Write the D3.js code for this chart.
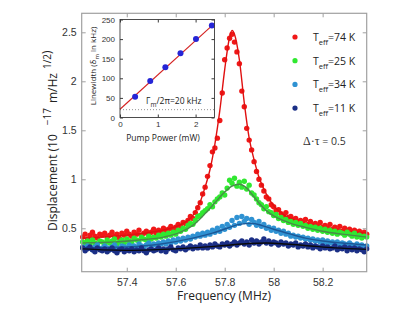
<!DOCTYPE html>
<html>
<head>
<meta charset="utf-8">
<script src="https://cdn.jsdelivr.net/npm/d3@7"></script>
<style>
  body { margin: 0; background: #fff; }
  svg { font-family: "Open Sans", sans-serif; }
</style>
</head>
<body>
<div id="graf"></div>
<script>
// spectra sampled every 10 kHz starting at 57.22 MHz
const freqStart = 57.22
const freqStep = 0.01

const red74 = [
  0.41,0.44,0.39,0.43,0.46,0.42,0.40,0.44,0.43,0.45,
  0.41,0.43,0.46,0.42,0.44,0.40,0.45,0.43,0.47,0.44,
  0.42,0.46,0.44,0.48,0.43,0.45,0.47,0.44,0.46,0.49,
  0.45,0.48,0.46,0.50,0.47,0.49,0.52,0.48,0.51,0.54,
  0.52,0.56,0.55,0.58,0.62,0.60,0.66,0.71,0.76,0.85,
  0.92,1.03,1.14,1.28,1.32,1.42,1.60,1.88,2.22,2.34,
  2.44,2.48,2.40,2.30,2.18,1.90,1.74,1.52,1.40,1.30,
  1.18,1.08,1.00,0.94,0.88,0.82,0.80,0.74,0.72,0.68,
  0.69,0.65,0.63,0.66,0.61,0.62,0.59,0.60,0.57,0.58,
  0.56,0.59,0.54,0.57,0.53,0.55,0.52,0.56,0.51,0.53,
  0.50,0.54,0.49,0.51,0.48,0.52,0.47,0.50,0.46,0.49,
  0.45,0.48,0.44,0.47,0.43,0.46,0.44
]
const green25 = [
  0.36,0.33,0.37,0.34,0.38,0.35,0.33,0.37,0.36,0.34,
  0.38,0.35,0.37,0.39,0.34,0.36,0.38,0.35,0.39,0.37,
  0.36,0.40,0.38,0.37,0.41,0.39,0.38,0.42,0.39,0.41,
  0.40,0.43,0.41,0.44,0.42,0.45,0.43,0.46,0.44,0.48,
  0.47,0.50,0.49,0.53,0.55,0.54,0.58,0.62,0.63,0.66,
  0.68,0.70,0.74,0.72,0.77,0.80,0.82,0.86,0.84,0.91,
  0.99,0.96,1.01,0.93,0.97,0.92,0.98,0.90,0.94,0.86,
  0.84,0.80,0.76,0.74,0.70,0.72,0.67,0.66,0.63,0.64,
  0.60,0.61,0.58,0.59,0.56,0.57,0.54,0.56,0.53,0.55,
  0.52,0.53,0.50,0.52,0.49,0.51,0.48,0.50,0.47,0.49,
  0.46,0.48,0.45,0.47,0.44,0.46,0.45,0.43,0.46,0.44,
  0.42,0.45,0.41,0.43,0.40,0.42,0.41
]
const blue34 = [
  0.31,0.29,0.32,0.30,0.28,0.31,0.33,0.29,0.30,0.32,
  0.30,0.28,0.31,0.33,0.30,0.29,0.32,0.31,0.30,0.33,
  0.31,0.32,0.30,0.34,0.32,0.31,0.33,0.35,0.32,0.34,
  0.33,0.35,0.34,0.36,0.34,0.37,0.35,0.38,0.36,0.39,
  0.37,0.40,0.38,0.41,0.39,0.42,0.41,0.44,0.42,0.45,
  0.43,0.46,0.44,0.48,0.46,0.50,0.47,0.52,0.49,0.54,
  0.51,0.58,0.53,0.61,0.55,0.62,0.57,0.60,0.54,0.59,
  0.56,0.53,0.57,0.52,0.54,0.50,0.51,0.48,0.50,0.47,
  0.48,0.45,0.47,0.44,0.45,0.42,0.43,0.41,0.42,0.40,
  0.41,0.39,0.40,0.38,0.39,0.37,0.38,0.36,0.38,0.35,
  0.37,0.35,0.36,0.34,0.36,0.33,0.35,0.34,0.32,0.35,
  0.33,0.31,0.34,0.32,0.33,0.31,0.32
]
const navy11 = [
  0.30,0.27,0.29,0.31,0.28,0.26,0.30,0.28,0.27,0.29,
  0.26,0.28,0.30,0.27,0.25,0.28,0.29,0.26,0.28,0.27,
  0.29,0.26,0.28,0.27,0.30,0.27,0.25,0.28,0.29,0.27,
  0.28,0.30,0.27,0.29,0.26,0.29,0.31,0.28,0.27,0.30,
  0.29,0.31,0.28,0.30,0.32,0.29,0.31,0.30,0.33,0.30,
  0.32,0.30,0.33,0.31,0.34,0.32,0.31,0.34,0.33,0.35,
  0.32,0.34,0.36,0.33,0.35,0.37,0.34,0.36,0.33,0.38,
  0.35,0.37,0.34,0.36,0.39,0.35,0.37,0.34,0.36,0.35,
  0.33,0.36,0.34,0.35,0.32,0.34,0.33,0.35,0.31,0.33,
  0.32,0.34,0.31,0.33,0.30,0.32,0.31,0.29,0.32,0.30,
  0.31,0.29,0.30,0.32,0.28,0.30,0.29,0.31,0.27,0.30,
  0.28,0.30,0.27,0.29,0.28,0.26,0.29
]

// fitted curves, [MHz, displacement]
const redFit = [[57.22,0.40],[57.30,0.41],[57.40,0.43],[57.50,0.46],[57.58,0.50],[57.63,0.55],
  [57.67,0.63],[57.70,0.77],[57.72,0.92],[57.74,1.10],[57.76,1.36],[57.78,1.70],[57.80,2.12],
  [57.82,2.45],[57.83,2.52],[57.84,2.48],[57.86,2.22],[57.88,1.78],[57.90,1.42],[57.92,1.20],
  [57.94,1.02],[57.97,0.85],[58.00,0.73],[58.04,0.64],[58.10,0.57],[58.18,0.52],[58.27,0.48],[58.38,0.45]]
const greenFit = [[57.22,0.35],[57.35,0.36],[57.45,0.38],[57.55,0.41],[57.62,0.46],[57.67,0.53],
  [57.72,0.65],[57.76,0.76],[57.80,0.87],[57.83,0.93],[57.86,0.95],[57.89,0.91],[57.92,0.82],
  [57.95,0.73],[57.98,0.66],[58.02,0.60],[58.07,0.55],[58.13,0.51],[58.20,0.47],[58.28,0.44],[58.38,0.41]]
const blueFit = [[57.22,0.30],[57.40,0.31],[57.54,0.34],[57.67,0.40],[57.75,0.45],[57.81,0.50],
  [57.86,0.54],[57.91,0.55],[57.95,0.53],[58.00,0.49],[58.07,0.44],[58.13,0.40],[58.20,0.37],
  [58.28,0.35],[58.38,0.33]]
const navyFit = [[57.22,0.29],[57.30,0.28],[57.40,0.275],[57.50,0.28],[57.60,0.29],[57.70,0.305],
  [57.80,0.325],[57.90,0.345],[57.97,0.35],[58.05,0.34],[58.15,0.32],[58.25,0.30],[58.38,0.285]]

const legendTemps = ["=74 K", "=25 K", "=34 K", "=11 K"]
const xTicks = [57.4, 57.6, 57.8, 58, 58.2]
const yTicks = [0.5, 1, 1.5, 2, 2.5]

// inset: linewidth vs pump power
const pumpPower = [0.40, 0.80, 1.20, 1.60, 2.01, 2.43]
const linewidth = [53, 93, 128, 164, 200, 235]
const lwFit = [[0, 21], [2.5, 240]]
const gammaM = 20
const insetXTicks = [0, 1, 2]
const insetYTicks = [0, 50, 100, 150, 200, 250]

const series = [
  { vals: red74, fit: redFit, color: "#f01818", fitColor: "#e01010" },
  { vals: green25, fit: greenFit, color: "#30e830", fitColor: "#4a8a4a" },
  { vals: blue34, fit: blueFit, color: "#2f92d2", fitColor: "#1c5796" },
  { vals: navy11, fit: navyFit, color: "#1b2f86", fitColor: "#0a0a0a" },
]

const W = 414, H = 312
const svg = d3.select("#graf").append("svg").attr("width", W).attr("height", H)

const x = d3.scaleLinear().domain([57.216, 58.38]).range([81.7, 366.7])
const y = d3.scaleLinear().domain([0.057, 2.694]).range([271.7, 13.3])

const plot = svg.append("g")
const line = d3.line().x((d) => x(d[0])).y((d) => y(d[1])).curve(d3.curveMonotoneX)

series.forEach((s) => {
  plot.append("g")
    .selectAll("circle")
    .data(s.vals)
    .enter()
    .append("circle")
    .attr("cx", (d, i) => x(freqStart + i * freqStep))
    .attr("cy", (d) => y(d))
    .attr("r", 2.7)
    .attr("fill", s.color)
  plot.append("path")
    .datum(s.fit)
    .attr("d", line)
    .attr("fill", "none")
    .attr("stroke", s.fitColor)
    .attr("stroke-width", 1.4)
})

// frame + axes
const axisColor = "#a0a0a0"
const styleAxis = (g) => {
  g.select(".domain").remove()
  g.selectAll(".tick line").attr("stroke", axisColor)
  g.selectAll(".tick text").attr("fill", "#333").attr("font-size", 10.5)
}
svg.append("g").attr("transform", "translate(0,271.7)")
  .call(d3.axisBottom(x).tickValues(xTicks).tickSize(-4).tickPadding(7).tickFormat(d3.format("")))
  .call(styleAxis)
svg.append("g").attr("transform", "translate(0,13.3)")
  .call(d3.axisTop(x).tickValues(xTicks).tickSize(-4).tickFormat(""))
  .call(styleAxis)
svg.append("g").attr("transform", "translate(81.7,0)")
  .call(d3.axisLeft(y).tickValues(yTicks).tickSize(-4).tickPadding(5).tickFormat(d3.format("")))
  .call(styleAxis)
svg.append("g").attr("transform", "translate(366.7,0)")
  .call(d3.axisRight(y).tickValues(yTicks).tickSize(-4).tickFormat(""))
  .call(styleAxis)
svg.append("rect")
  .attr("x", 81.7).attr("y", 13.3).attr("width", 285).attr("height", 258.4)
  .attr("fill", "none").attr("stroke", axisColor).attr("stroke-width", 1.2)

svg.append("text")
  .attr("x", 224).attr("y", 300)
  .attr("text-anchor", "middle")
  .attr("font-size", 12).attr("fill", "#222")
  .text("Frequency (MHz)")

const yl = svg.append("text")
  .attr("transform", "translate(57,231) rotate(-90)")
  .attr("font-size", 12).attr("fill", "#222")
yl.append("tspan").text("Displacement (10")
yl.append("tspan").attr("dx", 9).attr("dy", -6).attr("font-size", 10).text("\u221217")
yl.append("tspan").attr("dx", 5).attr("dy", 6).text("m/Hz")
yl.append("tspan").attr("dx", 4).attr("dy", -6).attr("font-size", 10).text("1/2")
yl.append("tspan").attr("dy", 0).text(")")

// legend
const legend = svg.append("g")
series.forEach((s, i) => {
  const ly = 37 + i * 23.7
  legend.append("circle").attr("cx", 295).attr("cy", ly).attr("r", 2.6).attr("fill", s.color)
  const t = legend.append("text").attr("x", 313).attr("y", ly + 4).attr("font-size", 10.5).attr("fill", "#222")
  t.append("tspan").text("T")
  t.append("tspan").attr("dy", 4).attr("font-size", 7.5).text("eff")
  t.append("tspan").attr("dy", -4).text(legendTemps[i])
})

const dt = svg.append("text").attr("x", 303).attr("y", 145).attr("font-size", 10.5).attr("fill", "#333")
dt.append("tspan").attr("font-family", "Liberation Serif").attr("font-size", 12).text("\u0394\u00b7\u03c4")
dt.append("tspan").text(" = 0.5")

// inset
const ix = d3.scaleLinear().domain([0, 2.5]).range([120, 214.5])
const iy = d3.scaleLinear().domain([0, 250]).range([117.5, 19.5])
const inset = svg.append("g")
inset.append("rect")
  .attr("x", 120).attr("y", 19.5).attr("width", 94.5).attr("height", 98)
  .attr("fill", "#fff")

const insetColor = "#3a3a3a"
const styleInset = (g) => {
  g.select(".domain").remove()
  g.selectAll(".tick line").attr("stroke", insetColor)
  g.selectAll(".tick text").attr("fill", "#333").attr("font-size", 8)
}
inset.append("g").attr("transform", "translate(0,117.5)")
  .call(d3.axisBottom(ix).tickValues(insetXTicks).tickSize(-3).tickPadding(4).tickFormat(d3.format("d")))
  .call(styleInset)
inset.append("g").attr("transform", "translate(0,19.5)")
  .call(d3.axisTop(ix).tickValues(insetXTicks).tickSize(-3).tickFormat(""))
  .call(styleInset)
inset.append("g").attr("transform", "translate(120,0)")
  .call(d3.axisLeft(iy).tickValues(insetYTicks).tickSize(-3).tickPadding(5).tickFormat(d3.format("d")))
  .call(styleInset)
inset.append("g").attr("transform", "translate(214.5,0)")
  .call(d3.axisRight(iy).tickValues(insetYTicks).tickSize(-3).tickFormat(""))
  .call(styleInset)

inset.append("line")
  .attr("x1", ix(0)).attr("x2", ix(2.5)).attr("y1", iy(gammaM)).attr("y2", iy(gammaM))
  .attr("stroke", "#777").attr("stroke-width", 0.8).attr("stroke-dasharray", "1,2")

inset.append("path")
  .datum(lwFit)
  .attr("d", d3.line().x((d) => ix(d[0])).y((d) => iy(d[1])))
  .attr("stroke", "#d42020").attr("stroke-width", 1.1).attr("fill", "none")

inset.selectAll("circle.pt")
  .data(pumpPower)
  .enter()
  .append("circle")
  .attr("class", "pt")
  .attr("cx", (d) => ix(d))
  .attr("cy", (d, i) => iy(linewidth[i]))
  .attr("r", 3)
  .attr("fill", "#2525d6")

inset.append("rect")
  .attr("x", 120).attr("y", 19.5).attr("width", 94.5).attr("height", 98)
  .attr("fill", "none").attr("stroke", insetColor).attr("stroke-width", 0.9)

const gm = inset.append("text").attr("x", 146).attr("y", 104).attr("font-size", 8.5).attr("fill", "#222")
gm.append("tspan").text("\u0393")
gm.append("tspan").attr("dy", 3).attr("font-size", 6.5).text("m")
gm.append("tspan").attr("dy", -3).text("/2\u03c0=20 kHz")

inset.append("text")
  .attr("x", 163).attr("y", 141)
  .attr("text-anchor", "middle").attr("font-size", 8.5).attr("fill", "#222")
  .text("Pump Power (mW)")

const il = inset.append("text")
  .attr("transform", "translate(96,66) rotate(-90)")
  .attr("text-anchor", "middle").attr("font-size", 8).attr("fill", "#222")
il.append("tspan").text("Linewidth (\u03b4")
il.append("tspan").attr("dy", 3).attr("font-size", 6).text("m")
il.append("tspan").attr("dy", -3).text(" in kHz)")
</script>
</body>
</html>
